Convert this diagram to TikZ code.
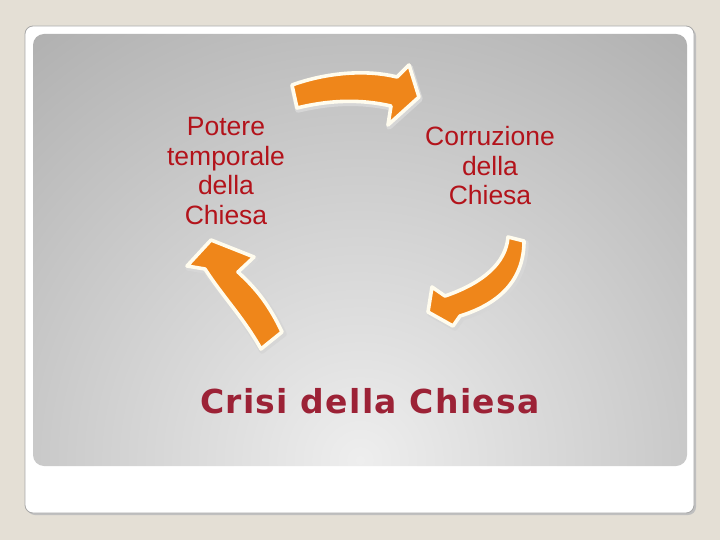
\documentclass[tikz,border=0pt]{standalone}
\usepackage{fontspec}
\setmainfont{Liberation Sans}
\newfontfamily\crisifont[LetterSpace=4]{DejaVu Sans}
\usetikzlibrary{shadings}
\definecolor{beige}{HTML}{E4DFD5}
\definecolor{cardline}{HTML}{A8A8A8}
\definecolor{panelin}{HTML}{EEEEEE}
\definecolor{panelout}{HTML}{7E7E7E}
\definecolor{arroworange}{HTML}{EF861A}
\definecolor{arrowrim}{HTML}{FFFCEE}
\definecolor{smallred}{HTML}{B3131B}
\definecolor{crisired}{HTML}{9C2236}
\pgfdeclareradialshading{panelshade}{\pgfpoint{0bp}{0bp}}{color(0bp)=(panelin); color(50bp)=(panelout)}
\tikzset{
  bigarrow/.style={fill=arroworange, draw=arrowrim, line width=3.6pt, line join=round},
  arrowshadow/.style={draw=black!16, line width=5.5pt, line join=round},
  smalltext/.style={text=smallred, align=center, font=\fontsize{26.5}{29.5}\selectfont, inner sep=0pt},
  crisitext/.style={text=crisired, font=\crisifont\bfseries\fontsize{33}{38}\selectfont, inner sep=0pt}
}
\begin{document}
\begin{tikzpicture}[x=1pt,y=-1pt]
\useasboundingbox (0,0) rectangle (720,540);
\fill[beige] (0,0) rectangle (720,540);
% card
\fill[black!25, rounded corners=8] (27,28) rectangle (696,515);
\path[fill=white, draw=cardline, line width=0.8pt, rounded corners=8] (25,26) rectangle (694,513);
% panel
\begin{scope}
\clip[rounded corners=11] (33,34) rectangle (687,466);
\shade[shading=panelshade] (360-490,460-490) rectangle (360+490,460+490);
\end{scope}
% top arrow
\path[arrowshadow] (293,87) .. controls (326,75) and (366,71) .. (398,79) -- (410,67) -- (420,99) -- (389,127) -- (392,108) .. controls (361,101) and (331,102) .. (298,110) -- cycle;
\path[bigarrow] (292,85) .. controls (325,73) and (365,69) .. (397,77) -- (409,65) -- (419,97) -- (388,125) -- (391,106) .. controls (360,99) and (330,100) .. (297,108) -- cycle;
% right arrow
\path[arrowshadow] (510,239) -- (526,243) .. controls (526,280) and (504,305) .. (462,318) -- (455,328) -- (430,314) -- (434,289) -- (447,298) .. controls (485,285) and (508,265) .. (510,239) -- cycle;
\path[bigarrow] (508,237) -- (524,241) .. controls (524,278) and (502,303) .. (460,316) -- (453,326) -- (428,312) -- (432,287) -- (445,296) .. controls (483,283) and (506,263) .. (508,237) -- cycle;
% left arrow
\path[arrowshadow] (262,351) -- (284,334) .. controls (269,302) and (254,287) .. (240,274) -- (256,259) -- (212,242) -- (188,268) -- (206,271) .. controls (224,299) and (244,319) .. (262,351) -- cycle;
\path[bigarrow] (261,349) -- (282,332) .. controls (267,300) and (252,285) .. (238,272) -- (254,257) -- (211,240) -- (187,266) -- (205,269) .. controls (223,297) and (243,317) .. (261,349) -- cycle;
% texts
\node[smalltext] (potere) at (226,171) {Potere\\temporale\\della\\Chiesa};
\node[smalltext] (corruzione) at (490,166) {Corruzione\\della\\Chiesa};
\node[crisitext] (crisi) at (370,401) {Crisi della Chiesa};
\end{tikzpicture}
\end{document}
